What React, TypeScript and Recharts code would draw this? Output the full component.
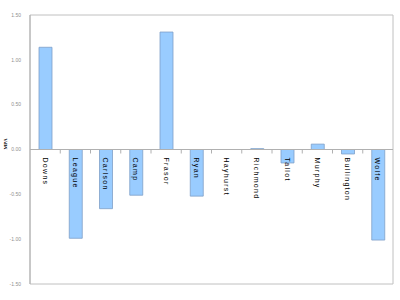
import { Bar, BarChart, ReferenceArea, ReferenceLine, XAxis, YAxis } from "recharts";

const players = ["Downs", "League", "Carlson", "Camp", "Frasor", "Ryan", "Hayhurst", "Richmond", "Tallot", "Murphy", "Bullington", "Wolfe"];
const mpa = [1.14, -0.99, -0.66, -0.51, 1.31, -0.52, 0, 0.01, -0.15, 0.06, -0.05, -1.01];
const yTicks = [-1.5, -1, -0.5, 0, 0.5, 1, 1.5];

const data = players.map((name, i) => ({ name, mpa: mpa[i] }));

const TOP = 15;
const BOTTOM = 284;
const LEFT = 30;
const RIGHT = 393;
const ZERO_Y = (TOP + BOTTOM) / 2;
const BAND = (RIGHT - LEFT) / players.length;

function NameTick({ x, payload, index }: any) {
  return (
    <g>
      {index > 0 && <line x1={x - BAND / 2} x2={x - BAND / 2} y1={ZERO_Y} y2={ZERO_Y + 4} stroke="#b0b0b0" />}
      <text
        x={x}
        y={ZERO_Y + 8}
        transform={`rotate(90, ${x}, ${ZERO_Y + 8})`}
        dominantBaseline="central"
        fontSize={7}
        letterSpacing={1.3}
        fill="#000"
        fontFamily="Liberation Sans, Arial, sans-serif"
      >
        {payload.value}
      </text>
    </g>
  );
}

export default function App() {
  return (
    <div style={{ position: "absolute", left: 0, top: 0, background: "#fff" }}>
      <BarChart width={400} height={300} data={data} margin={{ top: TOP, right: 400 - RIGHT, bottom: 0, left: 0 }}>
        <ReferenceArea y1={-1.5} y2={1.5} fill="none" stroke="#c0c0c0" strokeWidth={1} />
        <XAxis dataKey="name" height={300 - BOTTOM} axisLine={false} tickLine={false} tick={<NameTick />} interval={0} />
        <YAxis
          width={LEFT}
          domain={[-1.5, 1.5]}
          ticks={yTicks}
          tickFormatter={(v: number) => v.toFixed(2)}
          tick={{ fontSize: 5, fill: "#909090", fontFamily: "Liberation Sans, Arial, sans-serif" }}
          tickLine={false}
          tickMargin={3}
          axisLine={{ stroke: "#b0b0b0" }}
          label={{ value: "MPA", angle: -90, position: "insideLeft", offset: 5, fontSize: 5, fill: "#000", fontWeight: "bold" }}
        />
        <ReferenceLine y={0} stroke="#b0b0b0" />
        <Bar dataKey="mpa" fill="#99ccff" stroke="#7f9fc8" strokeWidth={0.8} barSize={13} isAnimationActive={false} />
      </BarChart>
    </div>
  );
}
